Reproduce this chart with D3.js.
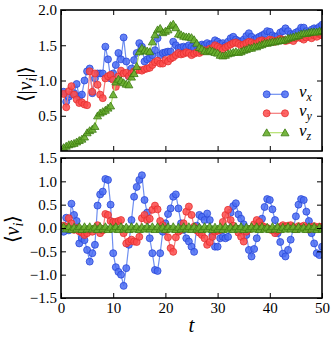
<!DOCTYPE html>
<html>
<head>
<meta charset="utf-8">
<script src="https://cdn.jsdelivr.net/npm/d3@7"></script>
<style>
  html, body { margin: 0; padding: 0; background: #fff; }
  svg { display: block; }
</style>
</head>
<body>
<div id="chart"></div>
<script>
// sampling step of t (t = 0.5, 1.0, ... 50)
const tStep = 0.5;

// <|v_i|> (top panel)
const absVx = [0.84,0.70,0.77,0.80,0.82,0.95,0.77,0.80,1.00,1.13,1.17,0.82,1.03,1.10,1.10,1.10,1.48,1.30,1.03,1.10,
  1.22,1.39,1.30,1.61,1.27,1.06,1.17,1.29,1.39,1.53,1.48,1.27,1.30,1.32,1.36,1.43,1.60,1.36,1.39,1.40,
  1.41,1.41,1.55,1.50,1.46,1.47,1.48,1.47,1.50,1.48,1.46,1.50,1.49,1.51,1.50,1.53,1.51,1.52,1.57,1.55,
  1.52,1.53,1.50,1.55,1.60,1.62,1.58,1.56,1.55,1.58,1.63,1.67,1.62,1.58,1.60,1.62,1.64,1.66,1.70,1.69,
  1.64,1.62,1.63,1.68,1.70,1.74,1.70,1.66,1.65,1.68,1.70,1.75,1.75,1.70,1.68,1.72,1.74,1.73,1.76,1.79];
const absVy = [0.81,0.62,0.85,0.92,0.80,0.73,0.68,0.69,0.66,0.65,1.13,0.84,1.10,0.94,0.80,0.75,1.03,1.06,1.08,1.01,
  0.91,1.06,1.14,1.10,1.11,1.06,1.10,1.13,1.15,1.15,1.14,1.16,1.17,1.18,1.22,1.26,1.28,1.24,1.24,1.29,
  1.27,1.31,1.33,1.36,1.39,1.37,1.38,1.40,1.39,1.36,1.38,1.40,1.39,1.41,1.43,1.42,1.45,1.46,1.50,1.48,
  1.46,1.44,1.47,1.49,1.51,1.53,1.54,1.52,1.50,1.51,1.53,1.55,1.54,1.52,1.53,1.56,1.57,1.55,1.56,1.58,
  1.57,1.55,1.57,1.59,1.58,1.56,1.57,1.59,1.56,1.60,1.62,1.60,1.58,1.61,1.63,1.60,1.64,1.62,1.66,1.64];
const absVz = [0.05,0.07,0.09,0.10,0.11,0.13,0.15,0.17,0.20,0.26,0.29,0.31,0.35,0.50,0.54,0.56,0.58,0.61,0.64,0.80,
  0.98,1.02,1.00,0.97,0.95,0.94,1.05,1.10,1.20,1.41,1.46,1.43,1.42,1.41,1.55,1.65,1.72,1.74,1.68,1.70,
  1.72,1.78,1.80,1.75,1.66,1.65,1.63,1.62,1.62,1.61,1.58,1.53,1.47,1.45,1.42,1.41,1.43,1.42,1.40,1.39,
  1.36,1.35,1.36,1.38,1.39,1.40,1.41,1.40,1.41,1.43,1.44,1.46,1.46,1.48,1.48,1.50,1.51,1.53,1.53,1.54,
  1.55,1.55,1.56,1.57,1.57,1.58,1.60,1.61,1.62,1.63,1.64,1.66,1.67,1.67,1.68,1.69,1.69,1.69,1.70,1.71];

// <v_i> (bottom panel)
const meanVx = [-0.08,0.22,-0.05,0.52,0.28,0.15,-0.33,-0.22,-0.26,-0.47,-0.72,-0.54,-0.36,0.48,0.72,0.78,1.05,1.03,0.50,-0.54,
  -0.84,-0.94,-1.00,-1.24,-0.86,-0.36,0.17,0.67,0.88,1.03,1.13,0.60,0.33,-0.22,-0.54,-0.90,-0.92,-0.54,-0.08,0.10,
  0.30,0.42,0.67,0.72,0.42,0.10,-0.04,-0.22,-0.29,-0.40,-0.51,0.05,0.28,0.24,0.17,0.31,0.17,-0.15,-0.40,-0.40,
  -0.22,-0.19,-0.22,-0.19,0.33,0.47,0.53,0.29,0.20,0.08,-0.15,-0.47,-0.61,-0.45,-0.22,0.03,0.20,0.45,0.62,0.60,
  0.40,0.17,-0.11,-0.30,-0.55,-0.61,-0.47,-0.25,-0.02,0.25,0.50,0.62,0.60,0.35,0.15,-0.11,-0.33,-0.54,-0.58,-0.40];
const meanVy = [0.05,0.02,0.21,0.10,-0.04,0.00,-0.07,-0.10,-0.15,-0.11,-0.04,-0.08,-0.02,0.06,-0.11,-0.05,0.30,0.28,0.15,0.13,
  0.13,0.15,0.17,-0.11,-0.33,-0.29,-0.25,-0.29,-0.30,-0.19,0.21,0.28,0.17,0.20,0.39,0.48,0.40,0.15,0.06,-0.04,
  -0.20,-0.43,-0.51,-0.20,-0.08,-0.04,0.10,0.35,0.46,0.28,0.03,-0.05,-0.10,-0.15,-0.22,-0.36,-0.30,-0.19,-0.08,-0.06,
  -0.04,0.13,0.28,0.39,0.17,0.05,-0.01,-0.10,-0.19,-0.29,-0.08,-0.03,-0.01,0.08,0.17,0.13,0.05,0.02,0.00,-0.03,
  -0.05,-0.11,-0.06,0.02,0.06,0.03,0.05,0.06,0.02,-0.02,0.04,0.02,0.05,0.01,-0.03,0.02,0.04,0.00,0.03,0.02];
const meanVz = [0.03,-0.02,0.03,-0.03,0.02,-0.02,0.03,-0.03,0.03,-0.02,0.03,-0.02,0.02,-0.03,0.03,-0.02,0.03,-0.03,0.02,-0.02,
  0.03,-0.03,0.03,-0.02,0.02,-0.03,0.03,-0.02,0.03,-0.03,0.02,-0.02,0.03,-0.02,0.03,-0.03,0.03,-0.02,0.02,-0.03,
  0.03,-0.02,0.03,-0.03,0.02,-0.02,0.03,-0.02,0.03,-0.03,0.03,-0.02,0.02,-0.03,0.03,-0.02,0.03,-0.03,0.02,-0.02,
  0.03,-0.03,0.03,-0.02,0.02,-0.03,0.03,-0.02,0.03,-0.03,0.02,-0.02,0.03,-0.02,0.03,-0.03,0.03,-0.02,0.02,-0.03,
  0.03,-0.02,0.03,-0.03,0.02,-0.02,0.03,-0.02,0.03,-0.03,0.03,-0.02,0.02,-0.03,0.03,-0.02,0.03,-0.03,0.02,-0.02];

const xTicks = [0, 10, 20, 30, 40, 50];
const topTicks = [0.5, 1.0, 1.5, 2.0];
const botTicks = [-1.5, -1.0, -0.5, 0.0, 0.5, 1.0, 1.5];
const legendNames = ['x', 'y', 'z'];

const styles = [
  {fill: '#4a6cf2', stroke: '#2a48d8', line: '#6f8ff0', marker: 'circle'},
  {fill: '#fb4b4b', stroke: '#e53030', line: '#f47a7a', marker: 'circle'},
  {fill: '#68ae2e', stroke: '#3b7a10', line: '#b4e06c', marker: 'triangle'}
];

const SERIF = 'Liberation Serif';

const W = 334, H = 340;
const svg = d3.select('#chart').append('svg').attr('width', W).attr('height', H);

const x = d3.scaleLinear().domain([0, 50]).range([61, 322]);
const yTop = d3.scaleLinear().domain([0, 2]).range([151, 10]);
const yBot = d3.scaleLinear().domain([-1.5, 1.5]).range([298, 158]);

const fmt = d3.format('.1f');

function panel(id, y, series, yTicks, showX) {
  const g = svg.append('g');
  const [y0, y1] = y.range();

  g.append('clipPath').attr('id', id)
    .append('rect').attr('x', x(0)).attr('y', y1).attr('width', x(50) - x(0)).attr('height', y0 - y1);

  const plot = g.append('g').attr('clip-path', `url(#${id})`);
  series.forEach((vals, k) => {
    const st = styles[k];
    const pts = vals.map((v, i) => [(i + 1) * tStep, v]);
    plot.append('path')
      .attr('d', d3.line().x(d => x(d[0])).y(d => y(d[1]))(pts))
      .attr('fill', 'none')
      .attr('stroke', st.line)
      .attr('stroke-width', 1.2);
    const m = plot.append('g');
    if (st.marker == 'circle') {
      m.selectAll('circle').data(pts).enter().append('circle')
        .attr('cx', d => x(d[0])).attr('cy', d => y(d[1])).attr('r', 3.5)
        .attr('fill', st.fill).attr('fill-opacity', 0.85)
        .attr('stroke', st.stroke).attr('stroke-width', 0.8);
    } else {
      m.selectAll('path').data(pts).enter().append('path')
        .attr('d', d3.symbol(d3.symbolTriangle, 28))
        .attr('transform', d => `translate(${x(d[0])},${y(d[1]) + 0.8})`)
        .attr('fill', st.fill).attr('fill-opacity', 0.9)
        .attr('stroke', st.stroke).attr('stroke-width', 0.8);
    }
  });

  // axes, ticks pointing inward
  g.append('g').attr('transform', `translate(${x(0)},0)`)
    .call(d3.axisLeft(y).tickValues(yTicks).tickFormat(fmt).tickSize(-5).tickPadding(4));
  g.append('g').attr('transform', `translate(${x(50)},0)`)
    .call(d3.axisRight(y).tickValues(yTicks).tickSize(-5).tickFormat(''));
  g.append('g').attr('transform', `translate(0,${y0})`)
    .call(d3.axisBottom(x).tickValues(xTicks).tickSize(-5).tickPadding(4).tickFormat(showX ? d3.format('d') : ''));
  g.append('g').attr('transform', `translate(0,${y1})`)
    .call(d3.axisTop(x).tickValues(xTicks).tickSize(-5).tickFormat(''));
  g.selectAll('.domain').remove();
  g.selectAll('g').attr('font-family', SERIF).attr('font-size', 15);
  g.selectAll('.tick line').attr('stroke', '#000').attr('stroke-width', 1);
  g.selectAll('.tick text').attr('font-family', SERIF).attr('font-size', 15).attr('fill', '#000');

  g.append('rect')
    .attr('x', x(0)).attr('y', y1).attr('width', x(50) - x(0)).attr('height', y0 - y1)
    .attr('fill', 'none').attr('stroke', '#000').attr('stroke-width', 1.6);
  return g;
}

panel('clipTop', yTop, [absVx, absVy, absVz], topTicks, false);
panel('clipBot', yBot, [meanVx, meanVy, meanVz], botTicks, true);

// y labels
function ylab(xPos, yPos, bars) {
  const t = svg.append('text')
    .attr('font-family', SERIF).attr('font-size', 20)
    .attr('transform', `translate(${xPos},${yPos}) rotate(-90)`)
    .attr('text-anchor', 'middle');
  t.append('tspan').text(bars ? '\u27E8|' : '\u27E8');
  t.append('tspan').attr('font-style', 'italic').text('v');
  t.append('tspan').attr('font-style', 'italic').attr('font-size', 14).attr('dy', 4).text('i');
  t.append('tspan').attr('dy', -4).text(bars ? '|\u27E9' : '\u27E9');
}
ylab(32, 84, true);
ylab(19, 229, false);

// x label
svg.append('text')
  .attr('font-family', SERIF).attr('font-size', 21).attr('font-style', 'italic')
  .attr('x', x(25)).attr('y', 332)
  .attr('text-anchor', 'middle')
  .text('t');

// legend
const legY = [94.3, 113.3, 132.7];
const leg = svg.append('g');
styles.forEach((st, k) => {
  const row = leg.append('g').attr('transform', `translate(0,${legY[k]})`);
  row.append('line').attr('x1', 266.7).attr('x2', 285).attr('stroke', st.line).attr('stroke-width', 1.2);
  [266.7, 285].forEach(px => {
    if (st.marker == 'circle') {
      row.append('circle').attr('cx', px).attr('r', 3.5)
        .attr('fill', st.fill).attr('fill-opacity', 0.85)
        .attr('stroke', st.stroke).attr('stroke-width', 0.8);
    } else {
      row.append('path').attr('d', d3.symbol(d3.symbolTriangle, 28))
        .attr('transform', `translate(${px},0.8)`)
        .attr('fill', st.fill).attr('fill-opacity', 0.9)
        .attr('stroke', st.stroke).attr('stroke-width', 0.8);
    }
  });
  const txt = row.append('text')
    .attr('font-family', SERIF).attr('font-size', 17).attr('font-style', 'italic')
    .attr('x', 299).attr('y', 3);
  txt.append('tspan').text('v');
  txt.append('tspan').attr('font-size', 12).attr('dy', 4).text(legendNames[k]);
});
</script>
</body>
</html>
